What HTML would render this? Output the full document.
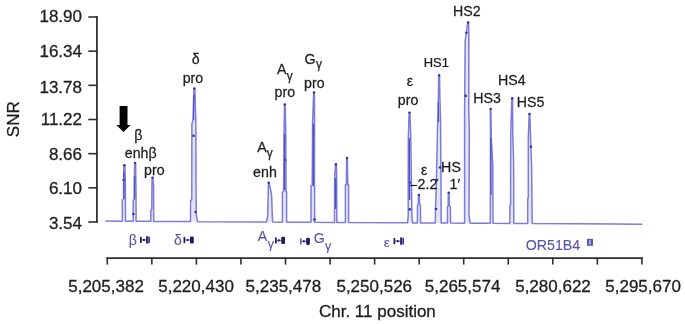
<!DOCTYPE html>
<html><head><meta charset="utf-8"><style>
html,body{margin:0;padding:0;background:#fff;width:685px;height:324px;overflow:hidden}
svg{display:block}
text{font-family:"Liberation Sans",sans-serif;}
.ax{font-size:17px;fill:#1e1e1e;stroke:#1e1e1e;stroke-width:0.3px}
</style></head><body>
<svg width="685" height="324" viewBox="0 0 685 324">
<rect width="685" height="324" fill="#fff"/>
<filter id="nf"><feOffset dx="0" dy="0"/></filter>
<g filter="url(#nf)">
<path d="M96.9 16.20 V222.80" stroke="#2e2e2e" stroke-width="1.75" fill="none"/>
<path d="M88.3 17.00 H97.8" stroke="#2e2e2e" stroke-width="1.6"/>
<text x="82" y="22.2" text-anchor="end" class="ax">18.90</text>
<path d="M88.3 51.17 H97.8" stroke="#2e2e2e" stroke-width="1.6"/>
<text x="82" y="56.8" text-anchor="end" class="ax">16.34</text>
<path d="M88.3 85.33 H97.8" stroke="#2e2e2e" stroke-width="1.6"/>
<text x="82" y="92.6" text-anchor="end" class="ax">13.78</text>
<path d="M88.3 119.50 H97.8" stroke="#2e2e2e" stroke-width="1.6"/>
<text x="82" y="125.1" text-anchor="end" class="ax">11.22</text>
<path d="M88.3 153.67 H97.8" stroke="#2e2e2e" stroke-width="1.6"/>
<text x="82" y="159.6" text-anchor="end" class="ax">8.66</text>
<path d="M88.3 187.83 H97.8" stroke="#2e2e2e" stroke-width="1.6"/>
<text x="82" y="193.6" text-anchor="end" class="ax">6.10</text>
<path d="M88.3 222.00 H97.8" stroke="#2e2e2e" stroke-width="1.6"/>
<text x="82" y="228.6" text-anchor="end" class="ax">3.54</text>
<text transform="translate(19.3 119.2) rotate(-90)" text-anchor="middle" class="ax">SNR</text>
<path d="M106.5 258 H642.6999999999999" stroke="#2e2e2e" stroke-width="1.75" fill="none"/>
<path d="M107.30 257.5 V264.6" stroke="#2e2e2e" stroke-width="1.6"/>
<path d="M151.85 257.5 V264.6" stroke="#2e2e2e" stroke-width="1.6"/>
<path d="M196.40 257.5 V264.6" stroke="#2e2e2e" stroke-width="1.6"/>
<path d="M240.95 257.5 V264.6" stroke="#2e2e2e" stroke-width="1.6"/>
<path d="M285.50 257.5 V264.6" stroke="#2e2e2e" stroke-width="1.6"/>
<path d="M330.05 257.5 V264.6" stroke="#2e2e2e" stroke-width="1.6"/>
<path d="M374.60 257.5 V264.6" stroke="#2e2e2e" stroke-width="1.6"/>
<path d="M419.15 257.5 V264.6" stroke="#2e2e2e" stroke-width="1.6"/>
<path d="M463.70 257.5 V264.6" stroke="#2e2e2e" stroke-width="1.6"/>
<path d="M508.25 257.5 V264.6" stroke="#2e2e2e" stroke-width="1.6"/>
<path d="M552.80 257.5 V264.6" stroke="#2e2e2e" stroke-width="1.6"/>
<path d="M597.35 257.5 V264.6" stroke="#2e2e2e" stroke-width="1.6"/>
<path d="M641.90 257.5 V264.6" stroke="#2e2e2e" stroke-width="1.6"/>
<text x="106.05" y="292" text-anchor="middle" class="ax">5,205,382</text>
<text x="196.05" y="292" text-anchor="middle" class="ax">5,220,430</text>
<text x="283.40" y="292" text-anchor="middle" class="ax">5,235,478</text>
<text x="374.25" y="292" text-anchor="middle" class="ax">5,250,526</text>
<text x="462.60" y="292" text-anchor="middle" class="ax">5,265,574</text>
<text x="553.00" y="292" text-anchor="middle" class="ax">5,280,622</text>
<text x="643.10" y="292" text-anchor="middle" class="ax">5,295,670</text>
<text x="377.4" y="317" text-anchor="middle" class="ax">Chr. 11 position</text>
<path d="M122.30 221.20 L122.30 200.00 L123.60 199.00 L123.70 172.00 L124.00 166.00 L124.40 165.30 L124.90 166.00 L125.40 185.00 L125.50 221.22Z M133.20 221.26 L133.20 200.50 L134.30 199.00 L134.40 176.00 L134.70 164.00 L135.10 163.00 L135.60 164.00 L136.00 191.00 L136.10 221.28Z M150.80 221.37 L150.80 210.00 L151.80 209.00 L152.00 180.00 L152.50 177.70 L153.00 180.00 L153.60 186.00 L153.70 221.38Z M190.50 221.60 L190.60 200.40 L191.80 200.00 L191.90 124.00 L193.00 120.40 L193.70 95.00 L194.00 90.00 L194.40 88.50 L194.90 90.00 L195.80 120.00 L196.00 182.00 L196.20 214.00 L197.40 221.64Z M266.50 222.04 L267.60 217.00 L268.10 200.00 L268.40 185.00 L268.70 182.70 L269.40 184.00 L271.60 195.00 L272.10 210.00 L272.60 222.07Z M282.40 222.13 L282.40 192.10 L283.60 191.50 L284.00 134.30 L284.50 106.00 L284.80 104.60 L285.20 106.00 L285.80 134.00 L286.00 191.50 L286.60 192.10 L286.60 222.15Z M311.00 222.29 L311.00 186.00 L312.20 185.50 L312.60 123.50 L313.60 94.00 L314.00 92.60 L314.40 94.00 L314.60 123.50 L314.40 185.50 L314.60 186.00 L314.60 222.32Z M334.40 222.43 L334.50 210.00 L334.60 178.00 L335.40 166.00 L335.90 164.40 L336.40 166.00 L336.70 178.00 L336.80 222.44Z M345.40 222.49 L345.40 185.00 L346.40 184.50 L346.60 160.00 L347.00 158.10 L347.40 160.00 L347.80 184.50 L348.60 185.00 L348.60 222.51Z M407.60 222.86 L408.20 215.00 L408.30 140.00 L409.00 115.00 L409.50 112.80 L410.00 115.00 L410.80 138.00 L411.70 200.00 L411.90 215.00 L412.60 222.88Z M417.40 222.91 L417.50 205.00 L418.30 204.00 L418.50 197.00 L418.90 195.00 L419.30 197.00 L419.60 204.00 L420.40 205.00 L420.60 222.93Z M435.30 223.02 L435.50 210.00 L436.30 184.70 L437.70 122.00 L438.30 102.00 L438.70 77.00 L439.10 75.40 L439.50 77.00 L440.00 102.00 L440.60 122.00 L440.80 167.00 L441.00 184.70 L441.20 223.05Z M447.40 223.09 L447.50 206.70 L448.20 206.00 L448.30 195.00 L448.70 192.80 L449.10 195.00 L449.40 206.00 L450.40 206.70 L450.50 223.10Z M464.60 223.19 L464.60 112.00 L465.20 40.00 L466.40 32.80 L467.50 24.00 L468.10 22.60 L468.60 24.00 L468.80 33.00 L468.80 112.00 L469.30 130.00 L469.00 216.00 L470.30 223.22Z M490.30 223.33 L490.40 195.00 L490.50 140.00 L490.30 112.00 L490.60 109.00 L490.90 112.00 L491.30 138.00 L492.80 166.00 L493.00 223.35Z M509.90 223.45 L509.90 205.60 L510.60 205.00 L510.70 136.00 L511.80 100.00 L512.20 98.20 L512.60 100.00 L512.80 136.00 L513.60 160.00 L513.80 223.47Z M527.70 223.55 L527.70 199.00 L528.30 198.00 L528.30 139.30 L529.10 116.00 L529.50 114.00 L529.90 116.00 L530.60 139.00 L531.60 166.00 L532.20 223.58Z" fill="#b4b4ee" opacity="0.35"/>
<path d="M105.4 221.10 L122.30 221.20 L122.30 200.00 L123.60 199.00 L123.70 172.00 L124.00 166.00 L124.40 165.30 L124.90 166.00 L125.40 185.00 L125.50 221.22 L133.20 221.26 L133.20 200.50 L134.30 199.00 L134.40 176.00 L134.70 164.00 L135.10 163.00 L135.60 164.00 L136.00 191.00 L136.10 221.28 L150.80 221.37 L150.80 210.00 L151.80 209.00 L152.00 180.00 L152.50 177.70 L153.00 180.00 L153.60 186.00 L153.70 221.38 L190.50 221.60 L190.60 200.40 L191.80 200.00 L191.90 124.00 L193.00 120.40 L193.70 95.00 L194.00 90.00 L194.40 88.50 L194.90 90.00 L195.80 120.00 L196.00 182.00 L196.20 214.00 L197.40 221.64 L266.50 222.04 L267.60 217.00 L268.10 200.00 L268.40 185.00 L268.70 182.70 L269.40 184.00 L271.60 195.00 L272.10 210.00 L272.60 222.07 L282.40 222.13 L282.40 192.10 L283.60 191.50 L284.00 134.30 L284.50 106.00 L284.80 104.60 L285.20 106.00 L285.80 134.00 L286.00 191.50 L286.60 192.10 L286.60 222.15 L311.00 222.29 L311.00 186.00 L312.20 185.50 L312.60 123.50 L313.60 94.00 L314.00 92.60 L314.40 94.00 L314.60 123.50 L314.40 185.50 L314.60 186.00 L314.60 222.32 L334.40 222.43 L334.50 210.00 L334.60 178.00 L335.40 166.00 L335.90 164.40 L336.40 166.00 L336.70 178.00 L336.80 222.44 L345.40 222.49 L345.40 185.00 L346.40 184.50 L346.60 160.00 L347.00 158.10 L347.40 160.00 L347.80 184.50 L348.60 185.00 L348.60 222.51 L407.60 222.86 L408.20 215.00 L408.30 140.00 L409.00 115.00 L409.50 112.80 L410.00 115.00 L410.80 138.00 L411.70 200.00 L411.90 215.00 L412.60 222.88 L417.40 222.91 L417.50 205.00 L418.30 204.00 L418.50 197.00 L418.90 195.00 L419.30 197.00 L419.60 204.00 L420.40 205.00 L420.60 222.93 L435.30 223.02 L435.50 210.00 L436.30 184.70 L437.70 122.00 L438.30 102.00 L438.70 77.00 L439.10 75.40 L439.50 77.00 L440.00 102.00 L440.60 122.00 L440.80 167.00 L441.00 184.70 L441.20 223.05 L447.40 223.09 L447.50 206.70 L448.20 206.00 L448.30 195.00 L448.70 192.80 L449.10 195.00 L449.40 206.00 L450.40 206.70 L450.50 223.10 L464.60 223.19 L464.60 112.00 L465.20 40.00 L466.40 32.80 L467.50 24.00 L468.10 22.60 L468.60 24.00 L468.80 33.00 L468.80 112.00 L469.30 130.00 L469.00 216.00 L470.30 223.22 L490.30 223.33 L490.40 195.00 L490.50 140.00 L490.30 112.00 L490.60 109.00 L490.90 112.00 L491.30 138.00 L492.80 166.00 L493.00 223.35 L509.90 223.45 L509.90 205.60 L510.60 205.00 L510.70 136.00 L511.80 100.00 L512.20 98.20 L512.60 100.00 L512.80 136.00 L513.60 160.00 L513.80 223.47 L527.70 223.55 L527.70 199.00 L528.30 198.00 L528.30 139.30 L529.10 116.00 L529.50 114.00 L529.90 116.00 L530.60 139.00 L531.60 166.00 L532.20 223.58 L642.3 224.22" fill="none" stroke="#7c7cda" stroke-width="1.5" stroke-linejoin="round"/>
<circle cx="124.4" cy="165.3" r="1.3" fill="#3434a0"/>
<circle cx="123.6" cy="180" r="1.3" fill="#3434a0"/>
<circle cx="135.1" cy="163" r="1.3" fill="#3434a0"/>
<circle cx="133.4" cy="214" r="1.3" fill="#3434a0"/>
<circle cx="152.5" cy="177.7" r="1.3" fill="#3434a0"/>
<circle cx="194.4" cy="88.5" r="1.3" fill="#3434a0"/>
<circle cx="193.5" cy="135.8" r="1.3" fill="#3434a0"/>
<circle cx="195.6" cy="212" r="1.3" fill="#3434a0"/>
<circle cx="268.7" cy="182.7" r="1.3" fill="#3434a0"/>
<circle cx="284.8" cy="104.6" r="1.3" fill="#3434a0"/>
<circle cx="285" cy="160" r="1.3" fill="#3434a0"/>
<circle cx="314" cy="92.6" r="1.3" fill="#3434a0"/>
<circle cx="314.5" cy="219.5" r="1.3" fill="#3434a0"/>
<circle cx="335.9" cy="164.4" r="1.3" fill="#3434a0"/>
<circle cx="347" cy="158.1" r="1.3" fill="#3434a0"/>
<circle cx="409.5" cy="112.8" r="1.3" fill="#3434a0"/>
<circle cx="409.8" cy="182.6" r="1.3" fill="#3434a0"/>
<circle cx="409.8" cy="209.4" r="1.3" fill="#3434a0"/>
<circle cx="418.9" cy="195" r="1.3" fill="#3434a0"/>
<circle cx="439.1" cy="75.4" r="1.3" fill="#3434a0"/>
<circle cx="440" cy="167.5" r="1.3" fill="#3434a0"/>
<circle cx="437" cy="180" r="1.3" fill="#3434a0"/>
<circle cx="436" cy="209" r="1.3" fill="#3434a0"/>
<circle cx="448.7" cy="192.8" r="1.3" fill="#3434a0"/>
<circle cx="468.1" cy="22.6" r="1.3" fill="#3434a0"/>
<circle cx="466.4" cy="32.8" r="1.3" fill="#3434a0"/>
<circle cx="465.7" cy="95.9" r="1.3" fill="#3434a0"/>
<circle cx="490.6" cy="109" r="1.3" fill="#3434a0"/>
<circle cx="512.2" cy="98.2" r="1.3" fill="#3434a0"/>
<circle cx="529.5" cy="114" r="1.3" fill="#3434a0"/>
<circle cx="531" cy="146.8" r="1.3" fill="#3434a0"/>
<path d="M313.4 123.5 L313.4 186" stroke="#5050c4" stroke-width="1.3"/>
<path d="M335.6 178 L335.6 209" stroke="#5050c4" stroke-width="1.3"/>
<path d="M490.8 138 L491.0 195" stroke="#5050c4" stroke-width="1.3"/>
<path d="M284.6 134 L284.6 190" stroke="#5050c4" stroke-width="1.3"/>
<path d="M409.3 138 L409.6 200" stroke="#5050c4" stroke-width="1.3"/>
<path d="M438.3 102 L438.6 122" stroke="#5050c4" stroke-width="1.3"/>
<path d="M123.9 172 L123.9 199" stroke="#5050c4" stroke-width="1.3"/>
<path d="M134.5 176 L134.5 199" stroke="#5050c4" stroke-width="1.3"/>
<path d="M193.9 95 L193.6 120" stroke="#5050c4" stroke-width="1.3"/>
<path d="M410.3 185.5 H417.2" stroke="#1e1e1e" stroke-width="1.2"/>
<path d="M119.6 106 H127.5 V125 H130.7 L123.5 132 L116.4 125 H119.6 Z" fill="#000"/>
<text font-family='"Liberation Serif"' font-size="13.800" fill="#1e1e1e" stroke="#1e1e1e" stroke-width="0.25" transform="translate(134.22 140.35) scale(1.0300 1)">β</text>
<text font-family='"Liberation Sans"' font-size="13.800" fill="#1e1e1e" stroke="#1e1e1e" stroke-width="0.25" transform="translate(124.77 157.60) scale(1.0300 1)">enh</text>
<text font-family='"Liberation Serif"' font-size="13.800" fill="#1e1e1e" stroke="#1e1e1e" stroke-width="0.25" transform="translate(148.42 158.45) scale(1.0300 1)">β</text>
<text font-family='"Liberation Sans"' font-size="13.800" fill="#1e1e1e" stroke="#1e1e1e" stroke-width="0.25" transform="translate(144.02 174.50) scale(1.0300 1)">pro</text>
<text font-family='"Liberation Serif"' font-size="13.800" fill="#1e1e1e" stroke="#1e1e1e" stroke-width="0.25" transform="translate(191.67 63.94) scale(1.0300 1)">δ</text>
<text font-family='"Liberation Sans"' font-size="13.800" fill="#1e1e1e" stroke="#1e1e1e" stroke-width="0.25" transform="translate(182.67 83.40) scale(1.0300 1)">pro</text>
<text font-family='"Liberation Sans"' font-size="13.800" fill="#1e1e1e" stroke="#1e1e1e" stroke-width="0.25" transform="translate(276.92 73.80) scale(1.0300 1)">A</text>
<text font-family='"Liberation Sans"' font-size="12.000" fill="#1e1e1e" stroke="#1e1e1e" stroke-width="0.25" transform="translate(286.70 80.17) scale(1.0000 1)">γ</text>
<text font-family='"Liberation Sans"' font-size="13.800" fill="#1e1e1e" stroke="#1e1e1e" stroke-width="0.25" transform="translate(274.57 97.40) scale(1.0300 1)">pro</text>
<text font-family='"Liberation Sans"' font-size="13.800" fill="#1e1e1e" stroke="#1e1e1e" stroke-width="0.25" transform="translate(257.32 151.70) scale(1.0300 1)">A</text>
<text font-family='"Liberation Sans"' font-size="12.000" fill="#1e1e1e" stroke="#1e1e1e" stroke-width="0.25" transform="translate(266.80 157.28) scale(1.0000 1)">γ</text>
<text font-family='"Liberation Sans"' font-size="13.800" fill="#1e1e1e" stroke="#1e1e1e" stroke-width="0.25" transform="translate(253.12 177.00) scale(1.0300 1)">enh</text>
<text font-family='"Liberation Sans"' font-size="13.800" fill="#1e1e1e" stroke="#1e1e1e" stroke-width="0.25" transform="translate(304.47 63.90) scale(1.0300 1)">G</text>
<text font-family='"Liberation Sans"' font-size="12.000" fill="#1e1e1e" stroke="#1e1e1e" stroke-width="0.25" transform="translate(316.05 68.33) scale(1.0000 1)">γ</text>
<text font-family='"Liberation Sans"' font-size="13.800" fill="#1e1e1e" stroke="#1e1e1e" stroke-width="0.25" transform="translate(304.07 87.80) scale(1.0300 1)">pro</text>
<text font-family='"Liberation Serif"' font-size="13.800" fill="#1e1e1e" stroke="#1e1e1e" stroke-width="0.25" transform="translate(406.64 85.78) scale(1.0300 1)">ε</text>
<text font-family='"Liberation Sans"' font-size="13.800" fill="#1e1e1e" stroke="#1e1e1e" stroke-width="0.25" transform="translate(397.82 104.50) scale(1.0300 1)">pro</text>
<text font-family='"Liberation Sans"' font-size="13.200" fill="#1e1e1e" stroke="#1e1e1e" stroke-width="0.25" transform="translate(423.77 66.60) scale(0.9800 1)">HS1</text>
<text font-family='"Liberation Sans"' font-size="13.800" fill="#1e1e1e" stroke="#1e1e1e" stroke-width="0.25" transform="translate(453.11 16.30) scale(1.0300 1)">HS2</text>
<text font-family='"Liberation Sans"' font-size="13.800" fill="#1e1e1e" stroke="#1e1e1e" stroke-width="0.25" transform="translate(473.31 102.60) scale(1.0300 1)">HS3</text>
<text font-family='"Liberation Sans"' font-size="13.800" fill="#1e1e1e" stroke="#1e1e1e" stroke-width="0.25" transform="translate(498.05 85.00) scale(1.0300 1)">HS4</text>
<text font-family='"Liberation Sans"' font-size="13.800" fill="#1e1e1e" stroke="#1e1e1e" stroke-width="0.25" transform="translate(516.66 106.70) scale(1.0300 1)">HS5</text>
<text font-family='"Liberation Serif"' font-size="13.800" fill="#1e1e1e" stroke="#1e1e1e" stroke-width="0.25" transform="translate(420.99 175.13) scale(1.0300 1)">ε</text>
<text font-family='"Liberation Sans"' font-size="13.800" fill="#1e1e1e" stroke="#1e1e1e" stroke-width="0.25" transform="translate(417.58 189.10) scale(1.0300 1)">2.2</text>
<text font-family='"Liberation Sans"' font-size="13.800" fill="#1e1e1e" stroke="#1e1e1e" stroke-width="0.25" transform="translate(441.12 172.40) scale(1.0300 1)">HS</text>
<text font-family='"Liberation Sans"' font-size="13.800" fill="#1e1e1e" stroke="#1e1e1e" stroke-width="0.25" transform="translate(449.58 189.00) scale(1.0300 1)">1′</text>
<text font-family='"Liberation Serif"' font-size="14.000" fill="#5454a6" stroke="#5454a6" stroke-width="0.1" transform="translate(128.68 244.90) scale(1.0000 1)">β</text>
<text font-family='"Liberation Serif"' font-size="14.000" fill="#5454a6" stroke="#5454a6" stroke-width="0.1" transform="translate(174.12 244.61) scale(1.0000 1)">δ</text>
<text font-family='"Liberation Sans"' font-size="13.800" fill="#5454a6" stroke="#5454a6" stroke-width="0.1" transform="translate(257.87 241.10) scale(1.0300 1)">A</text>
<text font-family='"Liberation Sans"' font-size="12.400" fill="#5454a6" stroke="#5454a6" stroke-width="0.1" transform="translate(267.70 248.14) scale(1.0000 1)">γ</text>
<text font-family='"Liberation Sans"' font-size="13.800" fill="#5454a6" stroke="#5454a6" stroke-width="0.1" transform="translate(313.67 243.10) scale(1.0300 1)">G</text>
<text font-family='"Liberation Sans"' font-size="12.400" fill="#5454a6" stroke="#5454a6" stroke-width="0.1" transform="translate(324.90 250.34) scale(1.0000 1)">γ</text>
<text font-family='"Liberation Serif"' font-size="13.400" fill="#5454a6" stroke="#5454a6" stroke-width="0.1" transform="translate(383.82 246.64) scale(1.0500 1)">ε</text>
<text font-family='"Liberation Sans"' font-size="13.800" fill="#5454a6" stroke="#5454a6" stroke-width="0.1" transform="translate(525.69 250.00) scale(1.0300 1)">OR51B4</text>
<path d="M141.0 239.9 H146.1" stroke="#5454a6" stroke-width="1.1"/><rect x="140.0" y="236.70" width="1.7" height="6.4" rx="0.6" fill="#1c1c66"/><rect x="143.10" y="238.80" width="1.6" height="2.2" fill="#1c1c66"/><rect x="146.1" y="236.30" width="3.8" height="7.2" rx="1.2" fill="#7c7cc8"/><rect x="146.1" y="236.30" width="1.6" height="7.2" fill="#1c1c66"/><rect x="148.80" y="237.10" width="1.1" height="5.6" fill="#34347c"/>
<path d="M184.5 240.0 H190.0" stroke="#5454a6" stroke-width="1.1"/><rect x="183.5" y="236.80" width="1.7" height="6.4" rx="0.6" fill="#1c1c66"/><rect x="186.80" y="238.90" width="1.6" height="2.2" fill="#1c1c66"/><rect x="190.0" y="236.40" width="3.8" height="7.2" rx="1.3" fill="#1c1c66"/>
<path d="M276.0 240.4 H281.2" stroke="#5454a6" stroke-width="1.1"/><rect x="275.0" y="237.20" width="1.7" height="6.4" rx="0.6" fill="#1c1c66"/><rect x="278.15" y="239.30" width="1.6" height="2.2" fill="#1c1c66"/><rect x="281.2" y="236.80" width="3.8" height="7.2" rx="1.3" fill="#1c1c66"/>
<path d="M301.0 241.3 H306.1" stroke="#5454a6" stroke-width="1.1"/><rect x="300.0" y="238.10" width="1.7" height="6.4" rx="0.6" fill="#6a6ab8"/><rect x="303.10" y="240.20" width="1.6" height="2.2" fill="#1c1c66"/><rect x="306.1" y="237.70" width="3.8" height="7.2" rx="1.3" fill="#1c1c66"/>
<path d="M394.5 241.1 H400.2" stroke="#5454a6" stroke-width="1.1"/><rect x="393.5" y="237.90" width="1.7" height="6.4" rx="0.6" fill="#1c1c66"/><rect x="396.90" y="240.00" width="1.6" height="2.2" fill="#1c1c66"/><rect x="400.2" y="237.50" width="3.8" height="7.2" rx="1.2" fill="#7c7cc8"/><rect x="400.2" y="237.50" width="1.6" height="7.2" fill="#1c1c66"/><rect x="402.90" y="238.30" width="1.1" height="5.6" fill="#34347c"/>
<rect x="587" y="238.8" width="6" height="7" fill="#5a5ab0"/><rect x="589.2" y="240" width="1.3" height="4.6" fill="#c8c8ec"/>
</g>
</svg>
</body></html>
